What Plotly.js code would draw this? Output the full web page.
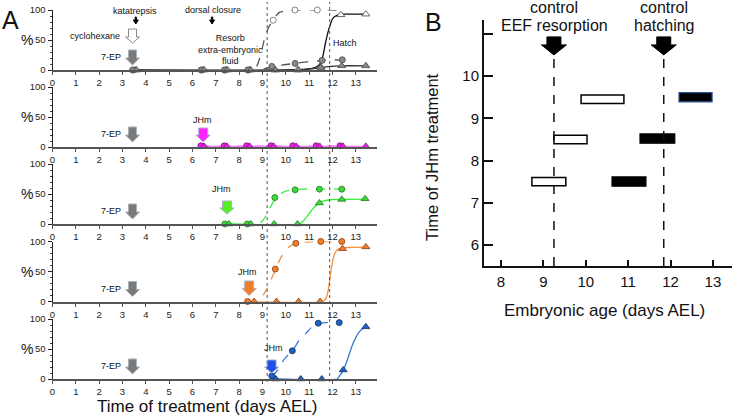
<!DOCTYPE html>
<html><head><meta charset="utf-8">
<script src="https://cdn.plot.ly/plotly-3.0.1.min.js"></script>
<style>html,body{margin:0;padding:0;background:#fff}#chart{width:733px;height:418px}</style>
</head><body><div id="chart"></div>
<script>
// ================= DATA =================
const timeTickVals = [0,1,2,3,4,5,6,7,8,9,10,11,12,13];
const pctTickVals = [0,50,100];

// Row 1 – controls
const ctlOpenCircX = [3.42, 6.36, 7.36, 8.36, 9.46, 10.39, 11.35];
const ctlOpenCircY = [0, 0, 0, 0, 83, 100, 100];
const ctlOpenCircFitX = [3.42, 8.6, 8.75, 8.86, 8.97, 9.08, 9.17, 9.25, 9.35, 9.46, 9.6, 9.72, 9.9, 10.2, 10.4, 12.4];
const ctlOpenCircFitY = [0, 0, 6, 17, 33, 51, 62, 70, 77, 83, 91, 96, 98, 99.5, 100, 100];
const ctlOpenTriX = [3.55, 6.45, 7.45, 8.45, 9.55, 10.5, 11.5, 12.36, 13.43];
const ctlOpenTriY = [0, 0, 0, 0, 0, 0, 5, 92, 93];
const ctlOpenTriFitX = [3.42, 10.5, 11.0, 11.3, 11.5, 11.6, 11.7, 11.8, 11.9, 12.0, 12.1, 12.25, 12.5, 13.43];
const ctlOpenTriFitY = [0, 0.5, 2, 5, 12, 25, 45, 62, 75, 85, 89, 92, 93, 93];
const ctlGrayCircX = [3.47, 6.4, 7.4, 8.4, 9.4, 10.4, 11.55, 12.42];
const ctlGrayCircY = [0, 0, 0, 0, 6, 11, 16, 17];
const ctlGrayCircFitX = [9.05, 9.4, 9.9, 10.4, 11.0, 11.55, 12.0, 12.42];
const ctlGrayCircFitY = [2, 5, 8.5, 11, 14, 15.5, 16.5, 17];
const ctlGrayTriX = [3.6, 6.5, 7.5, 8.5, 9.55, 10.55, 11.5, 12.4, 13.43];
const ctlGrayTriY = [0, 0, 0, 0, 0, 0, 4, 7, 7];
const ctlGrayTriFitX = [10.0, 10.8, 11.2, 11.5, 11.8, 12.1, 12.4, 13.43];
const ctlGrayTriFitY = [0, 1, 2.5, 4, 5.5, 6.5, 7, 7];

// Row 2 – JHm at day 6.5 (magenta)
const jh65CircX = [6.36, 7.36, 8.32, 9.36, 10.3, 11.3, 12.32];
const jh65CircY = [2, 2, 2, 2, 2, 2, 2];
const jh65CircFitX = [6.36, 12.32];
const jh65CircFitY = [2, 2];
const jh65TriX = [6.5, 7.48, 8.45, 9.48, 10.45, 11.45, 12.45, 13.43];
const jh65TriY = [1, 1, 1, 1, 1, 1, 1, 1];
const jh65TriFitX = [6.5, 13.43];
const jh65TriFitY = [1, 1];

// Row 3 – JHm at day 7.5 (green)
const jh75CircX = [7.39, 8.35, 9.53, 10.4, 11.44, 12.4];
const jh75CircY = [0, 0, 44, 57, 58, 58];
const jh75CircFitX = [7.39, 8.8, 9.0, 9.15, 9.3, 9.45, 9.6, 9.8, 10.0, 10.3, 10.6, 12.4];
const jh75CircFitY = [0, 0, 5, 14, 25, 36, 45, 51, 55, 57, 58, 58];
const jh75TriX = [7.56, 8.5, 9.5, 10.5, 11.44, 12.4, 13.4];
const jh75TriY = [0, 0, 0, 0, 35, 41, 42];
const jh75TriFitX = [7.56, 10.55, 10.75, 10.9, 11.05, 11.2, 11.4, 11.6, 11.85, 12.2, 13.4];
const jh75TriFitY = [0, 0, 5, 12, 20, 27, 34, 38, 40, 41, 41.5];

// Row 4 – JHm at day 8.5 (orange)
const jh85CircX = [8.36, 9.55, 10.43, 11.5, 12.4];
const jh85CircY = [0, 54, 97, 100, 100];
const jh85CircFitX = [8.36, 8.75, 8.9, 9.05, 9.2, 9.35, 9.5, 9.65, 9.8, 10.0, 10.2, 10.45, 11.0, 12.4];
const jh85CircFitY = [0, 0, 5, 12, 22, 35, 48, 62, 74, 86, 93, 97, 99.5, 100];
const jh85TriX = [8.64, 9.6, 10.55, 11.47, 12.43, 13.43];
const jh85TriY = [0, 0, 0, 0, 88, 91];
const jh85TriFitX = [8.64, 11.6, 11.7, 11.8, 11.88, 11.95, 12.02, 12.1, 12.2, 12.35, 12.6, 13.43];
const jh85TriFitY = [0, 0, 4, 15, 35, 55, 70, 80, 86, 89, 90, 90.5];

// Row 5 – JHm at day 9.5 (blue)
const jh95CircX = [9.4, 10.28, 11.39, 12.29];
const jh95CircY = [5, 47, 93, 94];
const jh95CircFitX = [9.4, 9.55, 9.7, 9.86, 10.0, 10.15, 10.28, 10.45, 10.6, 10.86, 11.1, 11.39, 11.7, 12.29];
const jh95CircFitY = [4, 10, 18, 29, 36, 42, 47, 57, 66, 76, 86, 92, 94, 95];
const jh95TriX = [9.57, 10.64, 11.54, 12.46, 13.43];
const jh95TriY = [0, 0, 0, 15, 87];
const jh95TriFitX = [9.57, 12.2, 12.3, 12.46, 12.6, 12.75, 12.86, 13.0, 13.14, 13.3, 13.43];
const jh95TriFitY = [0, 0, 5, 14, 28, 45, 57, 69, 78, 84, 87];

// Panel B – time windows (days AEL) by time of JHm treatment
const eefJhmTime = [7.5, 8.5, 9.45];
const eefStart = [8.73, 9.25, 9.89];
const eefEnd = [9.53, 10.03, 10.9];
const hatchJhmTime = [7.5, 8.52, 9.5];
const hatchStart = [10.62, 11.28, 12.2];
const hatchEnd = [11.42, 12.1, 12.98];
const bXTicks = [8, 9, 10, 11, 12, 13];
const bYTicks = [6, 7, 8, 9, 10, 11];
const bYTickText = ['6', '7', '8', '9', '10', ''];

// ================= LAYOUT HELPERS =================
const FONT = 'Liberation Sans, Arial, Helvetica, sans-serif';
const W = 733, H = 418;
const px = p => p / W;
const py = p => 1 - p / H;
const rowBottom = [70, 147, 224, 301.5, 379];
const rowHeight = 60;
const axX = i => i === 1 ? 'x' : 'x' + i;
const axY = i => i === 1 ? 'y' : 'y' + i;

const rows = [
  [
    {x: ctlOpenCircX, y: ctlOpenCircY, fx: ctlOpenCircFitX, fy: ctlOpenCircFitY, sym: 'circle', fill: '#ffffff', edge: '#666', line: '#555', dash: 'dash'},
    {x: ctlOpenTriX, y: ctlOpenTriY, fx: ctlOpenTriFitX, fy: ctlOpenTriFitY, sym: 'triangle-up', fill: '#ffffff', edge: '#444', line: '#111', dash: 'solid'},
    {x: ctlGrayCircX, y: ctlGrayCircY, fx: ctlGrayCircFitX, fy: ctlGrayCircFitY, sym: 'circle', fill: '#8a8a8a', edge: '#444', line: '#555', dash: 'dash'},
    {x: ctlGrayTriX, y: ctlGrayTriY, fx: ctlGrayTriFitX, fy: ctlGrayTriFitY, sym: 'triangle-up', fill: '#8a8a8a', edge: '#444', line: '#333', dash: 'solid'}
  ],
  [
    {x: jh65CircX, y: jh65CircY, fx: jh65CircFitX, fy: jh65CircFitY, sym: 'circle', fill: '#e620e6', edge: '#7a107a', line: '#ff80ff', dash: 'dash'},
    {x: jh65TriX, y: jh65TriY, fx: jh65TriFitX, fy: jh65TriFitY, sym: 'triangle-up', fill: '#e620e6', edge: '#7a107a', line: '#ff80ff', dash: 'solid'}
  ],
  [
    {x: jh75CircX, y: jh75CircY, fx: jh75CircFitX, fy: jh75CircFitY, sym: 'circle', fill: '#3fd63f', edge: '#1a7a1a', line: '#33ee33', dash: 'dash'},
    {x: jh75TriX, y: jh75TriY, fx: jh75TriFitX, fy: jh75TriFitY, sym: 'triangle-up', fill: '#3fd63f', edge: '#1a7a1a', line: '#33ee33', dash: 'solid'}
  ],
  [
    {x: jh85CircX, y: jh85CircY, fx: jh85CircFitX, fy: jh85CircFitY, sym: 'circle', fill: '#f07d28', edge: '#8a4010', line: '#f5903c', dash: 'dash'},
    {x: jh85TriX, y: jh85TriY, fx: jh85TriFitX, fy: jh85TriFitY, sym: 'triangle-up', fill: '#f07d28', edge: '#8a4010', line: '#f5903c', dash: 'solid'}
  ],
  [
    {x: jh95CircX, y: jh95CircY, fx: jh95CircFitX, fy: jh95CircFitY, sym: 'circle', fill: '#1f60c0', edge: '#0d2e66', line: '#3a78d8', dash: 'dash'},
    {x: jh95TriX, y: jh95TriY, fx: jh95TriFitX, fy: jh95TriFitY, sym: 'triangle-up', fill: '#1f60c0', edge: '#0d2e66', line: '#3a78d8', dash: 'solid'}
  ]
];

const traces = [];
const layout = {
  width: W, height: H,
  margin: {l: 0, r: 0, t: 0, b: 0},
  paper_bgcolor: '#fff', plot_bgcolor: 'rgba(0,0,0,0)',
  showlegend: false,
  barmode: 'overlay',
  font: {family: FONT, color: '#111'},
  shapes: [], annotations: []
};

rows.forEach((series, r) => {
  const i = r + 1;
  series.forEach(s => {
    traces.push({x: s.fx, y: s.fy, xaxis: axX(i), yaxis: axY(i), type: 'scatter', mode: 'lines',
      line: {color: s.line, width: 1.3, dash: s.dash, shape: 'spline', smoothing: 0.6}, cliponaxis: false, hoverinfo: 'skip'});
  });
  series.forEach(s => {
    traces.push({x: s.x, y: s.y, xaxis: axX(i), yaxis: axY(i), type: 'scatter', mode: 'markers',
      marker: {symbol: s.sym, size: s.sym === 'circle' ? 6 : 7, color: s.fill, line: {color: s.edge, width: 0.8}}, cliponaxis: false});
  });
  const b = rowBottom[r];
  layout['xaxis' + (i === 1 ? '' : i)] = {
    domain: [px(52.5), px(376.8)], range: [0, 13.9], anchor: axY(i),
    tickvals: timeTickVals, ticks: 'outside', ticklen: 3, tickcolor: '#555',
    showline: true, linecolor: '#555', linewidth: 2, showgrid: false, zeroline: false,
    tickfont: {size: 9.5, family: FONT, color: '#222'}, fixedrange: true
  };
  layout['yaxis' + (i === 1 ? '' : i)] = {
    domain: [py(b), py(b - rowHeight)], range: [0, 100], anchor: axX(i),
    tickvals: pctTickVals, ticks: 'outside', ticklen: 4, tickcolor: '#222',
    minor: {dtick: 10, ticks: 'outside', ticklen: 2, tickcolor: '#444'},
    showline: true, linecolor: '#222', linewidth: 1, showgrid: false, zeroline: false,
    tickfont: {size: 9.5, family: FONT, color: '#222'}, fixedrange: true
  };
  layout.annotations.push({xref: 'paper', yref: 'paper', x: px(27), y: py(b - 30), text: '%',
    showarrow: false, font: {size: 14, family: FONT, color: '#111'}, xanchor: 'center', yanchor: 'middle'});
  // 7-EP label
  layout.annotations.push({xref: 'paper', yref: 'paper', x: px(123), y: py(b - 13), text: '7-EP',
    showarrow: false, font: {size: 9, family: FONT, color: '#111'}, xanchor: 'right', yanchor: 'middle'});
});

// Panel B traces
traces.push({type: 'bar', orientation: 'h', xaxis: 'x6', yaxis: 'y6',
  y: eefJhmTime, base: eefStart, x: eefEnd.map((e, k) => e - eefStart[k]), width: 0.2,
  marker: {color: '#ffffff', line: {color: '#000', width: 1.5}}, hoverinfo: 'skip'});
traces.push({type: 'bar', orientation: 'h', xaxis: 'x6', yaxis: 'y6',
  y: hatchJhmTime, base: hatchStart, x: hatchEnd.map((e, k) => e - hatchStart[k]), width: 0.22,
  marker: {color: '#000000', line: {color: ['#000', '#000', '#2a4d8f'], width: 1.2}}, hoverinfo: 'skip'});

layout.xaxis6 = {domain: [px(484), px(732)], range: [7.6, 13.45], anchor: 'y6',
  tickvals: bXTicks, ticks: 'inside', ticklen: 6, tickwidth: 2, tickcolor: '#111',
  showline: true, linecolor: '#111', linewidth: 2, showgrid: false, zeroline: false,
  tickfont: {size: 15, family: FONT, color: '#111'}, ticklabelstandoff: 1, fixedrange: true};
layout.yaxis6 = {domain: [py(266), py(20)], range: [5.5, 11.33], anchor: 'x6',
  tickvals: bYTicks, ticktext: bYTickText, ticks: 'inside', ticklen: 9, tickwidth: 2, tickcolor: '#111',
  showline: true, linecolor: '#111', linewidth: 2, showgrid: false, zeroline: false,
  tickfont: {size: 15, family: FONT, color: '#111'}, ticklabelstandoff: 0, fixedrange: true};

// ================= SHAPES =================
function blockArrow(xr, yr, xa, ya, top, junc, tip, sw, hw, fill, edge) {
  return {type: 'path', xref: xr, yref: yr, xsizemode: 'pixel', ysizemode: 'pixel', xanchor: xa, yanchor: ya,
    path: `M ${-sw},${top} L ${sw},${top} L ${sw},${junc} L ${hw},${junc} L 0,${tip} L ${-hw},${junc} L ${-sw},${junc} Z`,
    fillcolor: fill, line: {color: edge, width: 1}, layer: 'above'};
}
// dotted reference lines across panel A
[9.2, 11.88].forEach(v => layout.shapes.push({type: 'line', xref: 'x', yref: 'paper', x0: v, x1: v, y0: py(382), y1: py(2),
  line: {color: '#555', width: 1, dash: 'dot'}}));
// 7-EP arrows in each row
for (let i = 1; i <= 5; i++) layout.shapes.push(blockArrow(axX(i), axY(i), 3.43, 0, 20, 12, 5, 4, 7, '#7a7a7a', '#a8b0b8'));
// cyclohexane open arrow
layout.shapes.push(blockArrow('x', 'y', 3.43, 0, 41, 33, 27, 4, 7, '#ffffff', '#888'));
// small black arrows (katatrepsis, dorsal closure)
layout.shapes.push(blockArrow('x', 'y', 3.57, 0, 53, 50, 46, 0.6, 2.5, '#000', '#000'));
layout.shapes.push(blockArrow('x', 'y', 6.84, 0, 53, 50, 46, 0.6, 2.5, '#000', '#000'));
// JHm arrows
layout.shapes.push(blockArrow('x2', 'y2', 6.46, 0, 19, 12, 5, 4.5, 7, '#ff22ff', '#a8b0c8'));
layout.shapes.push(blockArrow('x3', 'y3', 7.48, 0, 23, 16, 10, 4.5, 7, '#55ee22', '#a8b0c8'));
layout.shapes.push(blockArrow('x4', 'y4', 8.43, 0, 20.5, 13, 6, 4.5, 7, '#f07d28', '#a8b0c8'));
layout.shapes.push(blockArrow('x5', 'y5', 9.39, 0, 19, 12, 6, 4.5, 7, '#1f4fe8', '#a8b0c8'));
// Panel B dashed lines and arrows
[9.25, 11.84].forEach(v => {
  layout.shapes.push({type: 'line', xref: 'x6', yref: 'y6', x0: v, x1: v, y0: 5.5, y1: 10.5,
    line: {color: '#111', width: 1.5, dash: 'dash'}});
  layout.shapes.push(blockArrow('x6', 'y6', v, 6, 208, 200, 190, 7, 12.5, '#000', '#000'));
});

// ================= ANNOTATIONS =================
const ann = (x, y, text, size, opts) => Object.assign({xref: 'paper', yref: 'paper', x: px(x), y: py(y), text: text,
  showarrow: false, font: {size: size, family: FONT, color: '#111'}, xanchor: 'center', yanchor: 'middle'}, opts || {});
layout.annotations.push(
  ann(10, 20, 'A', 25),
  ann(433, 22, 'B', 25),
  ann(135, 11, 'katatrepsis', 9),
  ann(122, 36, 'cyclohexane', 9, {xanchor: 'right'}),
  ann(213, 10, 'dorsal closure', 9),
  ann(230, 50, 'Resorb<br>extra-embryonic<br>fluid', 9),
  ann(345, 43, 'Hatch', 9),
  ann(202, 120, 'JHm', 9),
  ann(222, 189, 'JHm', 9),
  ann(247, 272, 'JHm', 9),
  ann(273, 348, 'JHm', 9),
  ann(207, 406, 'Time of treatment (days AEL)', 17),
  ann(554, 8, 'control', 16),
  ann(554, 26, 'EEF resorption', 16),
  ann(664, 8, 'control', 16),
  ann(664, 26, 'hatching', 16),
  ann(432, 157, 'Time of JHm treatment', 16.5, {textangle: -90}),
  ann(604, 310, 'Embryonic age (days AEL)', 17)
);

Plotly.newPlot('chart', traces, layout, {displayModeBar: false, staticPlot: true});
</script>
</body></html>
